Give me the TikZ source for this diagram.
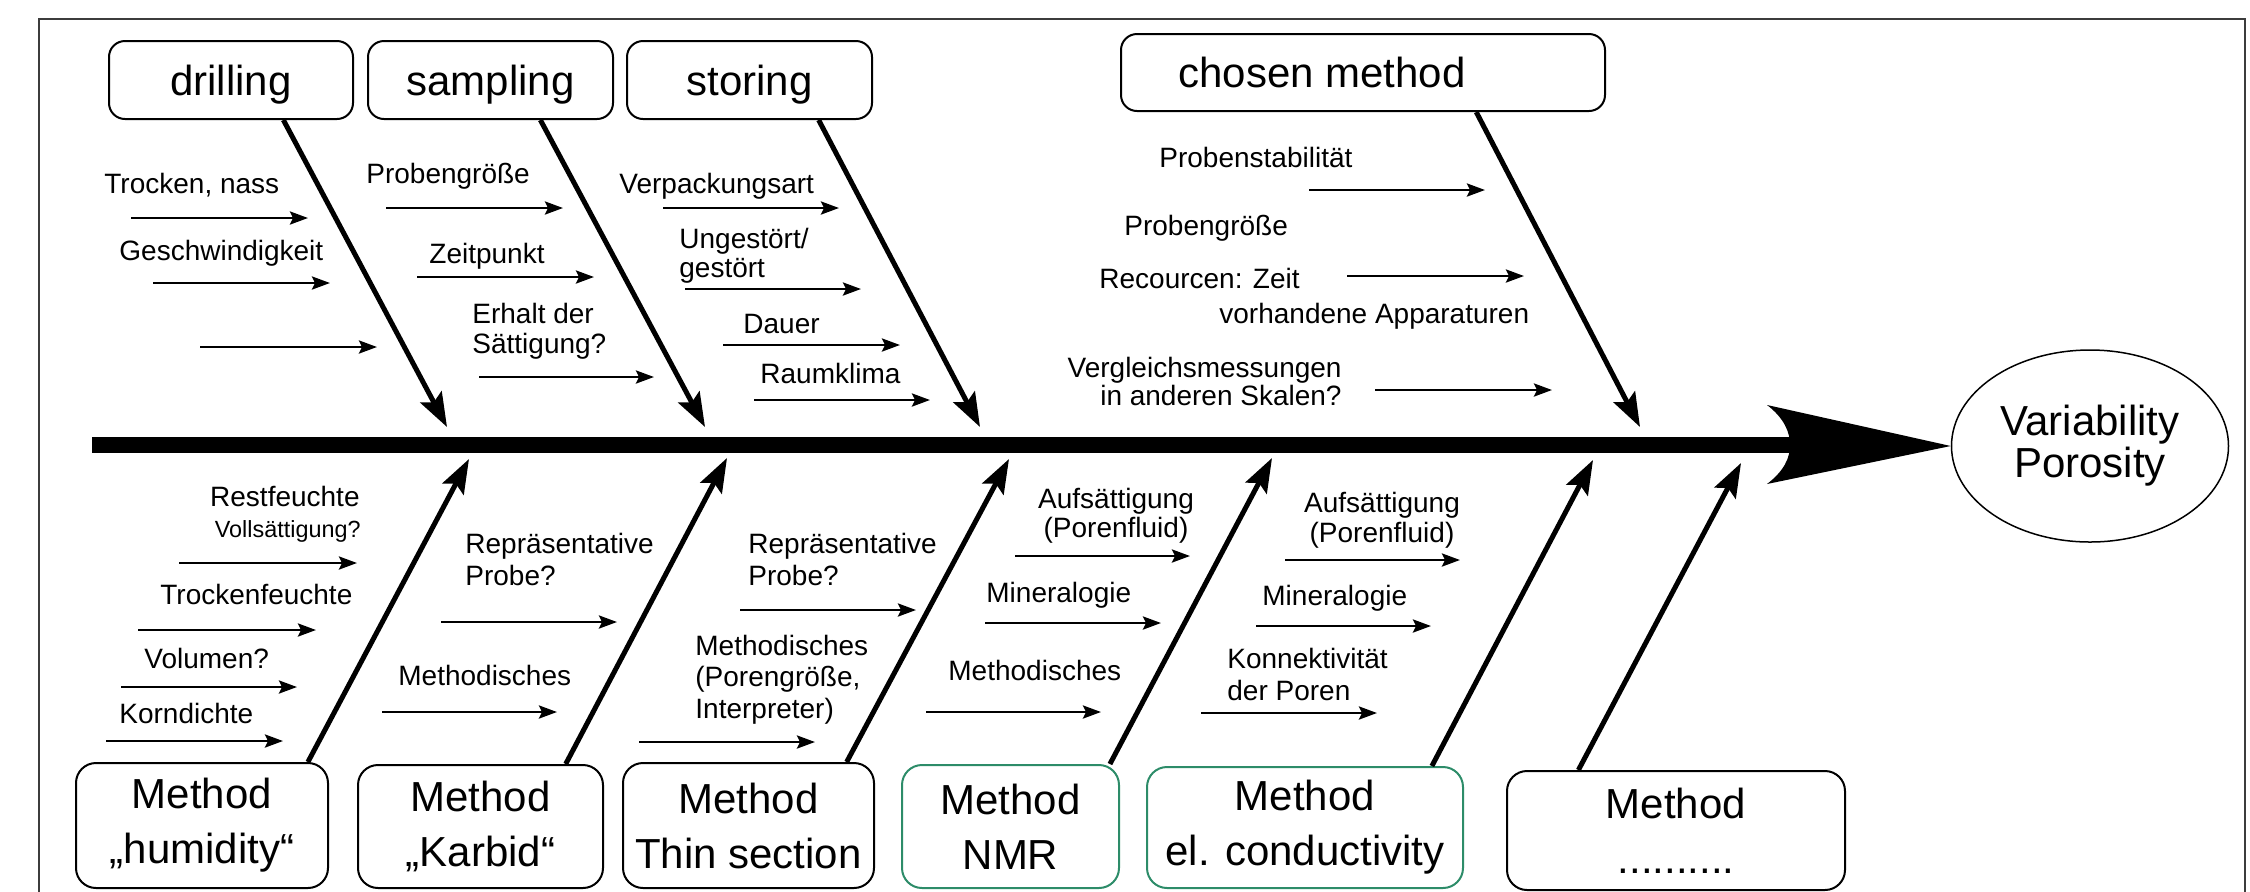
\documentclass[tikz,border=0pt]{standalone}
\usepackage{fontspec}
\setmainfont{Liberation Sans}
\usetikzlibrary{arrows.meta,calc,shapes.geometric}
\definecolor{boxgreen}{RGB}{45,140,105}
\definecolor{framegray}{RGB}{60,60,60}
\begin{document}
\begin{tikzpicture}[x=0.5pt,y=-0.5pt,
  topbox/.style={draw=black,line width=1pt,rounded corners=8pt,inner sep=0pt,font=\fontsize{21}{25}\selectfont,text depth=0pt},
  botbox/.style={draw=black,line width=1pt,rounded corners=10pt,inner sep=0pt,align=center,font=\fontsize{21}{27.5}\selectfont},
  greenbox/.style={botbox,draw=boxgreen},
  lbl/.style={inner sep=0pt,font=\fontsize{14}{15}\selectfont},
  bone/.style={line width=2.5pt,-{Stealth[length=17pt,width=12pt,inset=3pt]}},
  rib/.style={line width=1.4pt,-{Stealth[length=9pt,width=6.5pt,inset=1.5pt]}},
]
\useasboundingbox (0,0) rectangle (2250,891);
% frame
\draw[line width=0.8pt,framegray] (39,900) -- (39,19) -- (2245,19) -- (2245,900);

% top boxes
\node[topbox,minimum width=122pt,minimum height=39pt] (drill) at (231,80) {drilling};
\node[topbox,minimum width=122.5pt,minimum height=39pt] (samp) at (490.5,80) {sampling};
\node[topbox,minimum width=122.5pt,minimum height=39pt] (stor) at (749.5,80) {storing};
\node[topbox,minimum width=242pt,minimum height=38.5pt] (chos) at (1363,72.5) {chosen method\hspace*{41pt}};

% bottom boxes
\node[botbox,minimum width=126pt,minimum height=62.5pt] (hum) at (202,825.5) {Method\\„humidity“};
\node[botbox,minimum width=122.5pt,minimum height=61.5pt] (karb) at (480.5,826.5) {Method\\„Karbid“};
\node[botbox,minimum width=125.5pt,minimum height=62.5pt] (thin) at (748.5,825.5) {Method\\Thin section};
\node[greenbox,minimum width=108.5pt,minimum height=61.5pt] (nmr) at (1010.5,826.5) {Method\\NMR};
\node[greenbox,minimum width=158pt,minimum height=60.5pt] (elc) at (1305,827.5) {Method\\el. conductivity};
\node[botbox,minimum width=169pt,minimum height=59.5pt] (meth) at (1676,830.5) {Method\\..........};

% result
\node[ellipse,draw=black,line width=0.75pt,inner sep=0pt,minimum width=138.5pt,minimum height=96pt,align=center,font=\fontsize{21}{21}\selectfont] (var) at (2090,446) {Variability\\Porosity};

% spine
\coordinate (sp0) at (92,445);
\coordinate (spn) at (1790,445);
\draw[line width=8pt] (sp0) -- (spn);
\fill (var.west) -- (1767,405) .. controls (1784,418) and (1790,432) .. (spn) .. controls (1790,458) and (1784,471) .. (1767,484) -- cycle;

% bones top
\coordinate (t1) at (447,427);
\coordinate (t2) at (705,427);
\coordinate (t3) at (980,427);
\coordinate (t4) at (1640,427);
\draw[bone] ($(drill.south west)!0.713!(drill.south east)$) -- (t1);
\draw[bone] ($(samp.south west)!0.702!(samp.south east)$) -- (t2);
\draw[bone] ($(stor.south west)!0.78!(stor.south east)$) -- (t3);
\draw[bone] ($(chos.south west)!0.733!(chos.south east)$) -- (t4);

% bones bottom
\coordinate (b1) at (469,459);
\coordinate (b2) at (727,458);
\coordinate (b3) at (1009,459);
\coordinate (b4) at (1272,458);
\coordinate (b5) at (1593,460);
\coordinate (b6) at (1741,463);
\draw[bone] ($(hum.north west)!0.917!(hum.north east)$) -- (b1);
\draw[bone] ($(karb.north west)!0.845!(karb.north east)$) -- (b2);
\draw[bone] ($(thin.north west)!0.888!(thin.north east)$) -- (b3);
\draw[bone] ($(nmr.north west)!0.954!(nmr.north east)$) -- (b4);
\draw[bone] ($(elc.north west)!0.899!(elc.north east)$) -- (b5);
\draw[bone] ($(meth.north west)!0.213!(meth.north east)$) -- (b6);

% labels top (multi-line nodes: base = last line)
\node[lbl,anchor=base west] (l1) at (104,193) {Trocken, nass};
\node[lbl,anchor=base west] (l2) at (119,260) {Geschwindigkeit};
\node[lbl,anchor=base west] (l3) at (366,183) {Probengröße};
\node[lbl,anchor=base west] (l4) at (429,263) {Zeitpunkt};
\node[lbl,anchor=base west,align=left] (l5) at (472,353) {Erhalt der\\Sättigung?};
\node[lbl,anchor=base west] (l6) at (619,193) {Verpackungsart};
\node[lbl,anchor=base west,align=left] (l7) at (679,277) {Ungestört/\\[-0.5pt]gestört};
\node[lbl,anchor=base west] (l8) at (743,333) {Dauer};
\node[lbl,anchor=base west] (l9) at (760,383) {Raumklima};
\node[lbl,anchor=base west] (l10) at (1159,167) {Probenstabilität};
\node[lbl,anchor=base west] (l11) at (1124,235) {Probengröße};
\node[lbl,anchor=base west] (l12) at (1099,288) {Recourcen: Zeit};
\node[lbl,anchor=base west] (l13) at (1219,323) {vorhandene Apparaturen};
\node[lbl,anchor=base east,align=right] (l14) at (1342,405) {Vergleichsmessungen\\[-1pt]in anderen Skalen?};

% labels bottom
\node[lbl,anchor=base east] (l15) at (360,506) {Restfeuchte};
\node[lbl,anchor=base east,font=\fontsize{11.7}{13}\selectfont] (l16) at (361,537) {Vollsättigung?};
\node[lbl,anchor=base west] (l17) at (160,604) {Trockenfeuchte};
\node[lbl,anchor=base west] (l18) at (144,668) {Volumen?};
\node[lbl,anchor=base west] (l19) at (119,723) {Korndichte};
\node[lbl,anchor=base west,align=left] (l20) at (465,585) {Repräsentative\\[1pt]Probe?};
\node[lbl,anchor=base west] (l21) at (398,685) {Methodisches};
\node[lbl,anchor=base west,align=left] (l22) at (748,585) {Repräsentative\\[1pt]Probe?};
\node[lbl,anchor=base west,align=left] (l23) at (695,718) {Methodisches\\[0.5pt](Porengröße,\\[1pt]Interpreter)};
\node[lbl,anchor=base,align=center] (l24) at (1116,537) {Aufsättigung\\[-0.5pt](Porenfluid)};
\node[lbl,anchor=base west] (l25) at (986,602) {Mineralogie};
\node[lbl,anchor=base west] (l26) at (948,680) {Methodisches};
\node[lbl,anchor=base,align=center] (l27) at (1382,542) {Aufsättigung\\(Porenfluid)};
\node[lbl,anchor=base west] (l28) at (1262,605) {Mineralogie};
\node[lbl,anchor=base west,align=left] (l29) at (1227,700) {Konnektivität\\[1pt]der Poren};

% small arrows top
\draw[rib] (131,218) -- (308,218);
\draw[rib] (153,283) -- (330,283);
\draw[rib] (200,347) -- (377,347);
\draw[rib] (386,208) -- (563,208);
\draw[rib] (417,277) -- (594,277);
\draw[rib] (479,377) -- (654,377);
\draw[rib] (663,208) -- (839,208);
\draw[rib] (685,289) -- (861,289);
\draw[rib] (723,345) -- (900,345);
\draw[rib] (754,400) -- (930,400);
\draw[rib] (1309,190) -- (1485,190);
\draw[rib] (1347,276) -- (1524,276);
\draw[rib] (1375,390) -- (1552,390);

% small arrows bottom
\draw[rib] (179,563) -- (357,563);
\draw[rib] (138,630) -- (316,630);
\draw[rib] (121,687) -- (297,687);
\draw[rib] (106,741) -- (283,741);
\draw[rib] (441,622) -- (617,622);
\draw[rib] (382,712) -- (557,712);
\draw[rib] (740,610) -- (916,610);
\draw[rib] (639,742) -- (815,742);
\draw[rib] (1015,556) -- (1190,556);
\draw[rib] (985,623) -- (1161,623);
\draw[rib] (926,712) -- (1101,712);
\draw[rib] (1285,560) -- (1460,560);
\draw[rib] (1256,626) -- (1431,626);
\draw[rib] (1201,713) -- (1377,713);
\end{tikzpicture}
\end{document}
